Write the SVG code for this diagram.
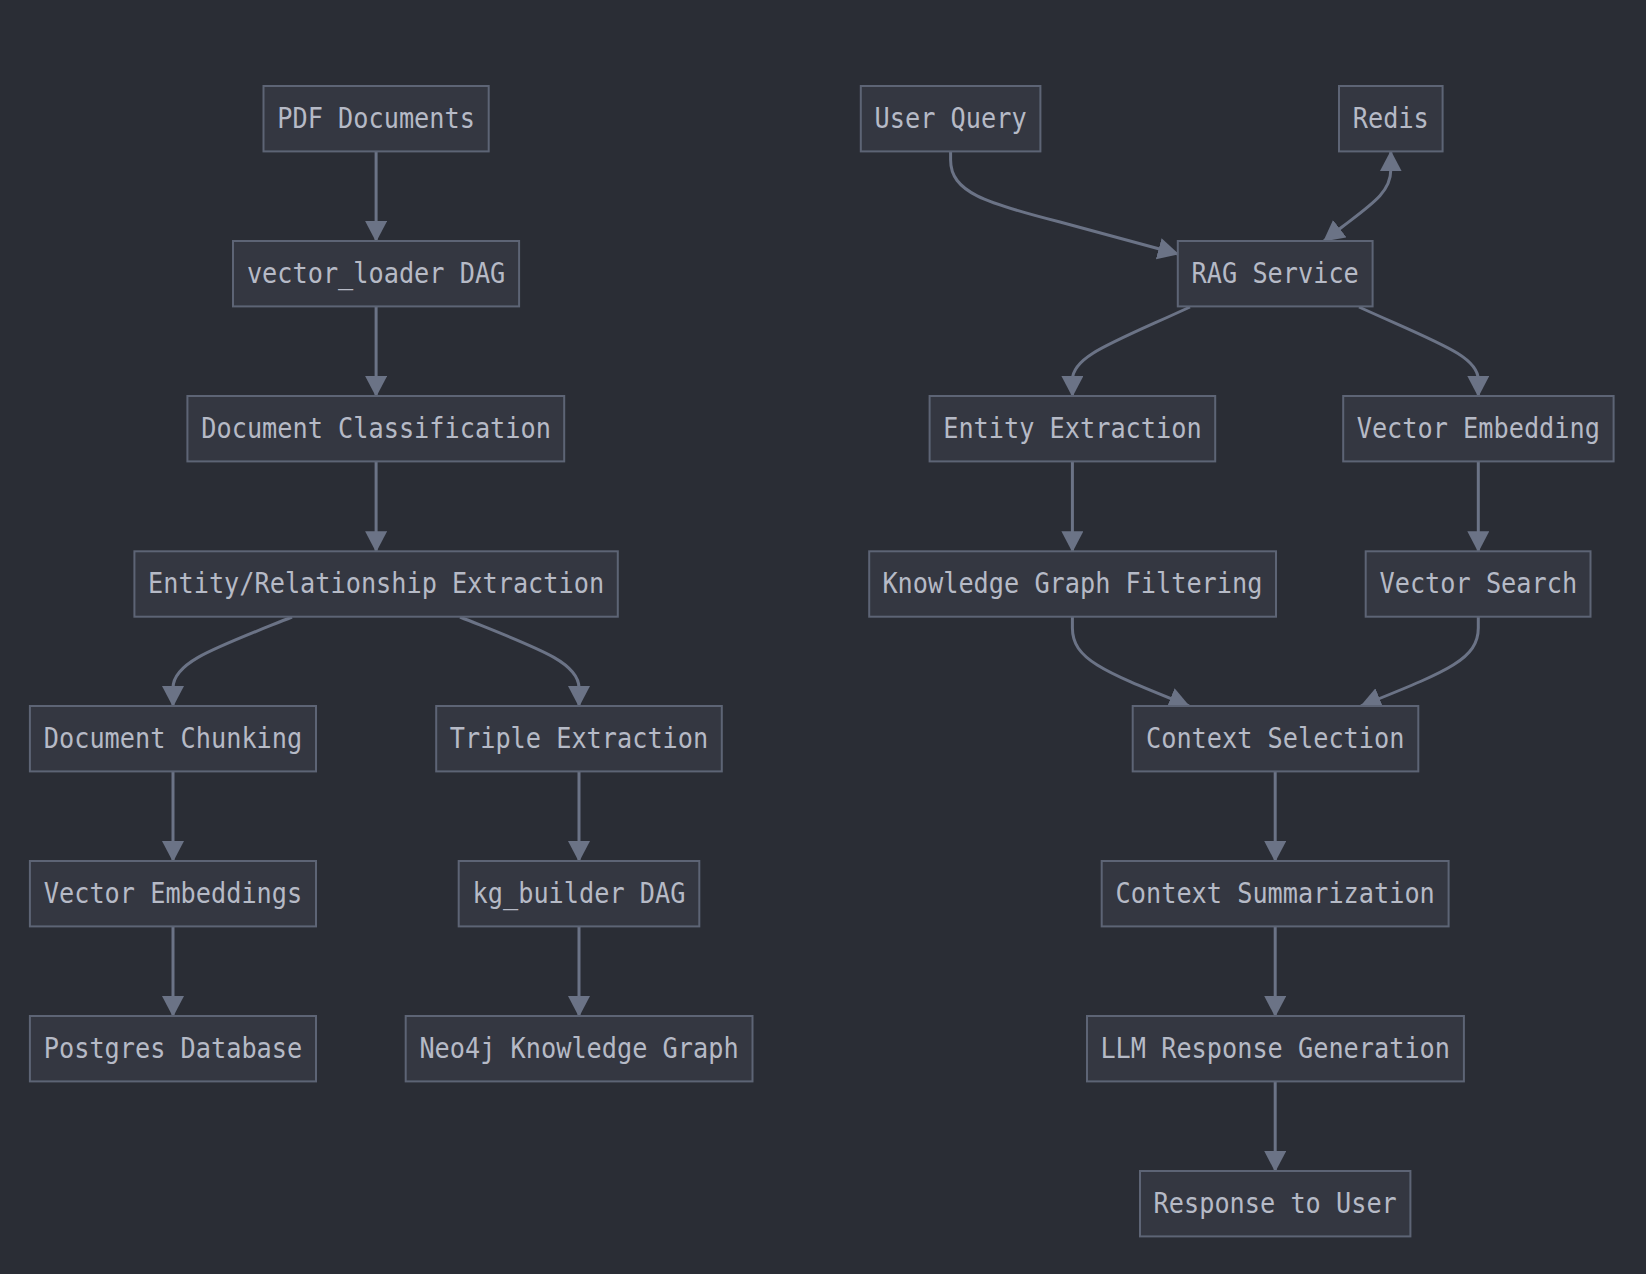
<svg xmlns="http://www.w3.org/2000/svg" width="1646" height="1274" viewBox="0 0 1646 1274">
<style>
.bg{fill:#2a2d35}
.node rect{fill:#343741;stroke:#5d6475;stroke-width:2}
.node text{fill:#b6bac6;font-family:"DejaVu Sans Mono","Liberation Mono",monospace;font-size:27.5px;text-anchor:middle}
.edge{fill:none;stroke:#6b7386;stroke-width:3}
</style>
<defs>
<marker id="arr" viewBox="0 0 21 22" refX="20" refY="11" markerWidth="21" markerHeight="22" markerUnits="userSpaceOnUse" orient="auto-start-reverse">
<path d="M0,0 L21,11 L0,22 z" fill="#6b7386"/>
</marker>
</defs>
<rect class="bg" x="0" y="0" width="1646" height="1274"/>
<g id="connectors">
<path class="edge" d="M376.1,151.4 L376.1,241" marker-end="url(#arr)"/>
<path class="edge" d="M376.1,306.4 L376.1,396" marker-end="url(#arr)"/>
<path class="edge" d="M376.1,461.4 L376.1,551.3" marker-end="url(#arr)"/>
<path class="edge" d="M292,617 C215,648 173,662 173,688 L173,706" marker-end="url(#arr)"/>
<path class="edge" d="M460,617 C537,648 579,662 579,688 L579,706" marker-end="url(#arr)"/>
<path class="edge" d="M173,771.4 L173,861" marker-end="url(#arr)"/>
<path class="edge" d="M173,926.4 L173,1016" marker-end="url(#arr)"/>
<path class="edge" d="M579,771.4 L579,861" marker-end="url(#arr)"/>
<path class="edge" d="M579,926.4 L579,1016" marker-end="url(#arr)"/>
<path class="edge" d="M950.6,151.4 L950.6,160 C950.6,192 985,203 1060,222 L1178,254" marker-end="url(#arr)"/>
<path class="edge" d="M1324,241 L1342,227 C1372,204 1390.8,192 1390.8,170 L1390.8,151.4" marker-start="url(#arr)" marker-end="url(#arr)"/>
<path class="edge" d="M1190,307 C1112,343 1072.4,356 1072.4,380 L1072.4,396" marker-end="url(#arr)"/>
<path class="edge" d="M1359,307 C1438,343 1478.3,356 1478.3,380 L1478.3,396" marker-end="url(#arr)"/>
<path class="edge" d="M1072.4,461.4 L1072.4,551.3" marker-end="url(#arr)"/>
<path class="edge" d="M1478.3,461.4 L1478.3,551.3" marker-end="url(#arr)"/>
<path class="edge" d="M1072.4,616.7 L1072.4,628 C1072.4,660 1105,672 1189,706" marker-end="url(#arr)"/>
<path class="edge" d="M1478.3,616.7 L1478.3,628 C1478.3,660 1445,672 1361,706" marker-end="url(#arr)"/>
<path class="edge" d="M1275.2,771.4 L1275.2,861" marker-end="url(#arr)"/>
<path class="edge" d="M1275.2,926.4 L1275.2,1016" marker-end="url(#arr)"/>
<path class="edge" d="M1275.2,1081.4 L1275.2,1171" marker-end="url(#arr)"/>
</g>
<g id="n-pdf" class="node"><rect x="263.5" y="86" width="225.2" height="65.4"/><text x="376.1" y="128" textLength="197.6" lengthAdjust="spacingAndGlyphs">PDF Documents</text></g>
<g id="n-vloader" class="node"><rect x="233" y="241" width="286.1" height="65.4"/><text x="376.1" y="283" textLength="258.4" lengthAdjust="spacingAndGlyphs">vector_loader DAG</text></g>
<g id="n-docclass" class="node"><rect x="187.4" y="396" width="376.8" height="65.4"/><text x="376.1" y="438" textLength="349.6" lengthAdjust="spacingAndGlyphs">Document Classification</text></g>
<g id="n-erext" class="node"><rect x="134.4" y="551.3" width="483.4" height="65.4"/><text x="376.1" y="593.3" textLength="456" lengthAdjust="spacingAndGlyphs">Entity/Relationship Extraction</text></g>
<g id="n-chunk" class="node"><rect x="29.9" y="706" width="286.1" height="65.4"/><text x="173" y="748" textLength="258.4" lengthAdjust="spacingAndGlyphs">Document Chunking</text></g>
<g id="n-vembs" class="node"><rect x="29.9" y="861" width="286.1" height="65.4"/><text x="173" y="903" textLength="258.4" lengthAdjust="spacingAndGlyphs">Vector Embeddings</text></g>
<g id="n-postgres" class="node"><rect x="29.9" y="1016" width="286.1" height="65.4"/><text x="173" y="1058" textLength="258.4" lengthAdjust="spacingAndGlyphs">Postgres Database</text></g>
<g id="n-triple" class="node"><rect x="436.2" y="706" width="285.6" height="65.4"/><text x="579" y="748" textLength="258.4" lengthAdjust="spacingAndGlyphs">Triple Extraction</text></g>
<g id="n-kgb" class="node"><rect x="458.7" y="861" width="240.6" height="65.4"/><text x="579" y="903" textLength="212.8" lengthAdjust="spacingAndGlyphs">kg_builder DAG</text></g>
<g id="n-neo4j" class="node"><rect x="405.7" y="1016" width="346.8" height="65.4"/><text x="579" y="1058" textLength="319.2" lengthAdjust="spacingAndGlyphs">Neo4j Knowledge Graph</text></g>
<g id="n-uq" class="node"><rect x="860.8" y="86" width="179.6" height="65.4"/><text x="950.6" y="128" textLength="152" lengthAdjust="spacingAndGlyphs">User Query</text></g>
<g id="n-redis" class="node"><rect x="1339" y="86" width="103.6" height="65.4"/><text x="1390.8" y="128" textLength="76" lengthAdjust="spacingAndGlyphs">Redis</text></g>
<g id="n-rag" class="node"><rect x="1177.8" y="241" width="194.8" height="65.4"/><text x="1275.2" y="283" textLength="167.2" lengthAdjust="spacingAndGlyphs">RAG Service</text></g>
<g id="n-ee" class="node"><rect x="929.6" y="396" width="285.6" height="65.4"/><text x="1072.4" y="438" textLength="258.4" lengthAdjust="spacingAndGlyphs">Entity Extraction</text></g>
<g id="n-ve" class="node"><rect x="1343.2" y="396" width="270.4" height="65.4"/><text x="1478.3" y="438" textLength="243.2" lengthAdjust="spacingAndGlyphs">Vector Embedding</text></g>
<g id="n-kgf" class="node"><rect x="869.2" y="551.3" width="406.8" height="65.4"/><text x="1072.4" y="593.3" textLength="380" lengthAdjust="spacingAndGlyphs">Knowledge Graph Filtering</text></g>
<g id="n-vs" class="node"><rect x="1365.7" y="551.3" width="224.8" height="65.4"/><text x="1478.3" y="593.3" textLength="197.6" lengthAdjust="spacingAndGlyphs">Vector Search</text></g>
<g id="n-csel" class="node"><rect x="1132.7" y="706" width="285.6" height="65.4"/><text x="1275.2" y="748" textLength="258.4" lengthAdjust="spacingAndGlyphs">Context Selection</text></g>
<g id="n-csum" class="node"><rect x="1101.7" y="861" width="346.9" height="65.4"/><text x="1275.2" y="903" textLength="319.2" lengthAdjust="spacingAndGlyphs">Context Summarization</text></g>
<g id="n-llm" class="node"><rect x="1087" y="1016" width="376.9" height="65.4"/><text x="1275.2" y="1058" textLength="349.6" lengthAdjust="spacingAndGlyphs">LLM Response Generation</text></g>
<g id="n-resp" class="node"><rect x="1140" y="1171" width="270.4" height="65.4"/><text x="1275.2" y="1213" textLength="243.2" lengthAdjust="spacingAndGlyphs">Response to User</text></g>
</svg>
